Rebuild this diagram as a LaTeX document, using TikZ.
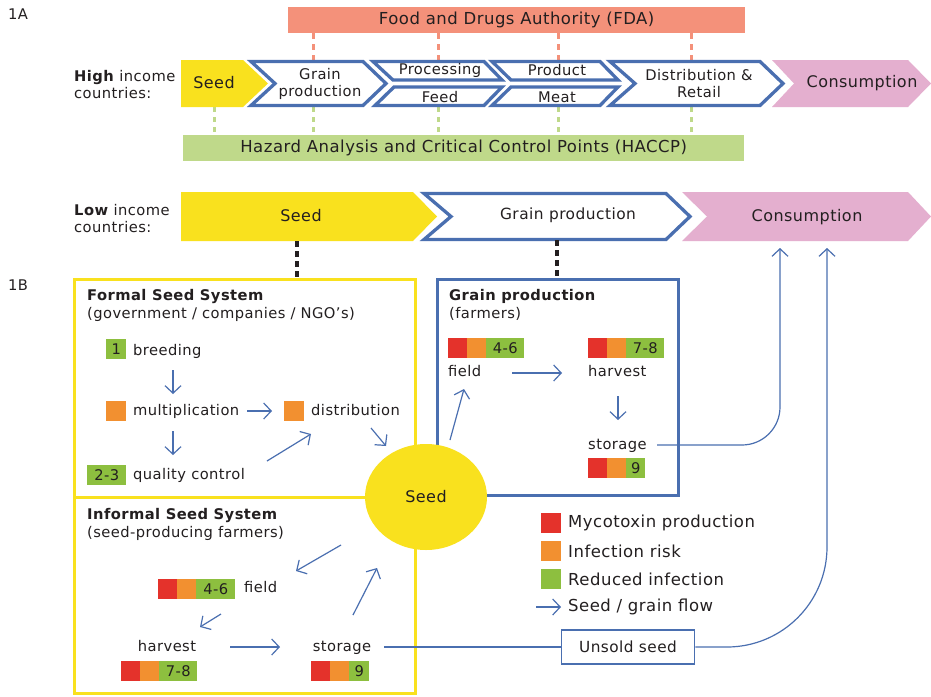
\documentclass[tikz,border=0pt]{standalone}
\usepackage{fontspec}
\setmainfont{DejaVu Sans}[LetterSpace=3]
\usetikzlibrary{arrows.meta,shapes.geometric}
\definecolor{cyel}{HTML}{F9E11E}
\definecolor{cblue}{HTML}{4A6FB0}
\definecolor{csal}{HTML}{F4917A}
\definecolor{cgrn}{HTML}{BFD98A}
\definecolor{cpink}{HTML}{E4AFCF}
\definecolor{cred}{HTML}{E4322B}
\definecolor{corg}{HTML}{F29030}
\definecolor{cg}{HTML}{8DBF3F}
\definecolor{ctxt}{HTML}{231F20}
\newcommand\riskbar[5]{%
  \fill[cred] (#1,#2) rectangle ++(19,20);
  \fill[corg] (#1+19,#2) rectangle ++(19,20);
  \node[fill=cg, minimum width=#3, minimum height=20, anchor=north west, inner sep=0pt, txt] (#5) at (#1+38,#2) {#4};}
\begin{document}
\begin{tikzpicture}[x=1pt,y=-1pt,
  txt/.style={font=\fontsize{14.7}{17}\selectfont, text=ctxt, inner sep=0pt},
  big/.style={font=\fontsize{16.5}{18}\selectfont, text=ctxt, inner sep=0pt},
  mid/.style={font=\fontsize{16}{18}\selectfont, text=ctxt, inner sep=0pt},
  ttl/.style={txt, font=\fontsize{14.7}{17}\selectfont\bfseries},
  low/.style={anchor=west, text height=11pt, text depth=3pt},
  chev/.style={draw=cblue, fill=white, line width=3.3pt, line join=miter},
  flow/.style={cblue, line width=1.2pt, -{Straight Barb[length=7.5pt,width=16pt]}},
  flowline/.style={cblue, line width=1.2pt},
  saldash/.style={csal, line width=3pt, dash pattern=on 6pt off 5pt},
  grndash/.style={cgrn, line width=3pt, dash pattern=on 5pt off 5pt},
  blkdash/.style={ctxt, line width=3.5pt, dash pattern=on 6pt off 4pt},
  sqr/.style={minimum width=20, minimum height=20, inner sep=0pt, anchor=north west}]
\useasboundingbox (0,0) rectangle (931,696);
\fill[white] (0,0) rectangle (931,696);

% ---------- 1A ----------
\node[txt, anchor=west] (l1a) at (8,14) {1A};
\node[big, fill=csal, minimum width=457, minimum height=26, anchor=north west] (fda) at (288,7) {Food and Drugs Authority (FDA)};
\node[big, fill=cgrn, minimum width=561, minimum height=26, anchor=north west] (haccp) at (183,135) {Hazard Analysis and Critical Control Points (HACCP)};

\foreach \xx in {313,438,558,691} \draw[saldash] (\xx,33) -- (\xx,60);
\foreach \xx in {214,313,438,558,691} \draw[grndash] (\xx,107) -- (\xx,135);

\fill[cyel] (181,60) -- (243,60) -- (268,83.5) -- (243,107) -- (181,107) -- cycle;
\draw[chev] (251,61.5) -- (363,61.5) -- (386,83.5) -- (363,105.5) -- (251,105.5) -- (275,83.5) -- cycle;
\draw[chev] (373,61.5) -- (484,61.5) -- (502,80) -- (393,80) -- cycle;
\draw[chev] (394,87) -- (502,87) -- (484,105.5) -- (375,105.5) -- cycle;
\draw[chev] (492,61.5) -- (600,61.5) -- (618,80) -- (511,80) -- cycle;
\draw[chev] (511,87) -- (618,87) -- (600,105.5) -- (492,105.5) -- cycle;
\draw[chev] (610,61.5) -- (760,61.5) -- (783,83.5) -- (760,105.5) -- (610,105.5) -- (635,83.5) -- cycle;
\fill[cpink] (772,60) -- (908,60) -- (931,83.5) -- (908,107) -- (772,107) -- (794,83.5) -- cycle;

\node[mid] (hseed) at (214,83) {Seed};
\node[txt, align=center] (hgrain) at (320,84) {Grain\\production};
\node[txt] (hproc) at (440,70) {Processing};
\node[txt] (hfeed) at (440,97) {Feed};
\node[txt] (hprod) at (557,70) {Product};
\node[txt] (hmeat) at (557,97) {Meat};
\node[txt, align=center] (hdist) at (699,84) {Distribution \&\\Retail};
\node[mid] (hcons) at (862,83) {Consumption};
\node[txt, align=left, anchor=west] (high) at (74,85) {\textbf{High} income\\countries:};

% ---------- low income ----------
\fill[cyel] (181,192) -- (413,192) -- (437,216.5) -- (413,241) -- (181,241) -- cycle;
\draw[chev] (424,193.5) -- (666,193.5) -- (690,216.5) -- (666,239.5) -- (424,239.5) -- (451,216.5) -- cycle;
\fill[cpink] (682,192) -- (908,192) -- (931,216.5) -- (908,241) -- (682,241) -- (707,216.5) -- cycle;
\node[mid] (lseed) at (301,216) {Seed};
\node[txt, font=\fontsize{15.4}{17}\selectfont] (lgrain) at (568,215) {Grain production};
\node[mid] (lcons) at (807,217) {Consumption};
\coordinate (consA) at (780,248);
\coordinate (consB) at (827,248);
\node[txt, align=left, anchor=west] (low) at (74,219) {\textbf{Low} income\\countries:};

% ---------- 1B ----------
\node[txt, anchor=west] (l1b) at (8,285) {1B};
\draw[blkdash] (297,241) -- (297,279);
\draw[blkdash] (557,240) -- (557,279);

\draw[cyel, line width=3pt] (74,279) rectangle (415,497);
\draw[cyel, line width=3pt] (74,497) rectangle (415,693);
\draw[cblue, line width=3pt] (437,279) rectangle (678,495);

% formal
\node[ttl, anchor=west] (ftitle) at (87,296) {Formal Seed System};
\node[txt, anchor=west] (fsub) at (87,314) {(government / companies / NGO’s)};
\node[sqr, fill=cg, txt] (s1) at (106,339) {1};
\node[txt, low] (breed) at (133,351) {breeding};
\node[sqr, fill=corg] (s2) at (106,401) {};
\node[txt, low] (mult) at (133,411) {multiplication};
\node[sqr, fill=corg] (s3) at (284,401) {};
\node[txt, low] (distr) at (311,411) {distribution};
\node[sqr, fill=cg, minimum width=39, txt] (s4) at (87,465) {2-3};
\node[txt, low] (qc) at (133,475) {quality control};
\draw[flow] (173,370) -- (173,394);
\draw[flow] (173,431) -- (173,455);
\draw[flow] (247,411) -- (272,411);
\draw[flow] (267,461) -- (311,434);
\draw[flow] (371,428) -- (386,446);

% grain production box
\node[ttl, anchor=west] (gtitle) at (449,296) {Grain production};
\node[txt, anchor=west] (gsub) at (449,314) {(farmers)};
\riskbar{448}{338}{38}{4-6}{gb1}
\riskbar{588}{338}{38}{7-8}{gb2}
\riskbar{588}{458}{19}{9}{gb3}
\node[txt, low] (gfield) at (448,372) {field};
\node[txt, low] (gharv) at (588,372) {harvest};
\node[txt, low] (gstor) at (588,445) {storage};
\draw[flow] (512,373) -- (562,373);
\draw[flow] (618,396) -- (618,420);
\draw[flow, rounded corners=38pt] (657,445) -- (780,445) -- (consA);

% informal
\node[ttl, anchor=west] (ititle) at (87,515) {Informal Seed System};
\node[txt, anchor=west] (isub) at (87,533) {(seed-producing farmers)};
\riskbar{158}{579}{39}{4-6}{ib1}
\riskbar{121}{661}{38}{7-8}{ib2}
\riskbar{311}{661}{20}{9}{ib3}
\node[txt, low] (ifield) at (244,588) {field};
\node[txt, text height=11pt, text depth=3pt] (iharv) at (167,647) {harvest};
\node[txt, text height=11pt, text depth=3pt] (istor) at (342,647) {storage};
\draw[flow] (341,545) -- (296,571);
\draw[flow] (221,614) -- (200,627);
\draw[flow] (230,647) -- (280,647);
\draw[flow] (353,615) -- (377,568);

% seed circle
\node[ellipse, fill=cyel, minimum width=122, minimum height=106, inner sep=0pt, mid] (seedc) at (426,497) {Seed};
\draw[flow] (450,440) -- (464,389);

% unsold seed
\node[txt, draw=cblue, line width=1.5pt, fill=white, minimum width=133, minimum height=34, font=\fontsize{15.3}{17}\selectfont] (unsold) at (628,647) {Unsold seed};
\draw[flowline] (384,647) -- (unsold.west);
\draw[flow, rounded corners=100pt] (unsold.east) -- (827,647) -- (consB);

% legend
\node[sqr, fill=cred] (k1) at (541,513) {};
\node[sqr, fill=corg] (k2) at (541,541) {};
\node[sqr, fill=cg] (k3) at (541,569) {};
\node[big, anchor=west] (t1) at (568,523) {Mycotoxin production};
\node[big, anchor=west] (t2) at (568,551) {Infection risk};
\node[big, anchor=west] (t3) at (568,579) {Reduced infection};
\coordinate (ka) at (536,607);
\coordinate (kb) at (561,607);
\draw[flow] (ka) -- (kb);
\node[big, anchor=west] (t4) at (568,607) {Seed / grain flow};
\end{tikzpicture}
\end{document}
